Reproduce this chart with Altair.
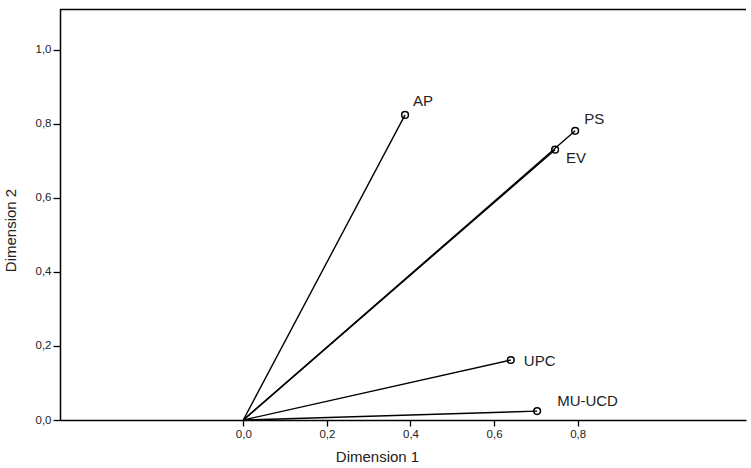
import altair as alt
import pandas as pd

names = ["AP", "PS", "EV", "UPC", "MU-UCD"]
dim1 = [0.387, 0.794, 0.746, 0.640, 0.703]
dim2 = [0.824, 0.781, 0.730, 0.162, 0.024]
label_dx = [8, 9, 11, 13, 20]
label_dy = [-14, -12, 8, 1, -10]

x_ticks = [0.0, 0.2, 0.4, 0.6, 0.8]
y_ticks = [0.0, 0.2, 0.4, 0.6, 0.8, 1.0]
x_domain = [-0.4385, 1.2027]
y_domain = [0.0, 1.11]

pts = pd.DataFrame({"name": names, "d1": dim1, "d2": dim2})
seg_rows = []
for n, a, b in zip(names, dim1, dim2):
    seg_rows.append({"name": n, "d1": 0.0, "d2": 0.0, "o": 0})
    seg_rows.append({"name": n, "d1": a, "d2": b, "o": 1})
segs = pd.DataFrame(seg_rows)

fmt = "replace(format(datum.value, '.1f'), '.', ',')"
FONT = "Liberation Sans"

xs = alt.Scale(domain=x_domain, nice=False, zero=False)
ys = alt.Scale(domain=y_domain, nice=False, zero=False)

xaxis = alt.Axis(values=x_ticks, labelExpr=fmt, title="Dimension 1", grid=False,
                 domainColor="black", domainWidth=1.5, tickColor="black", tickWidth=1.3,
                 tickSize=6, labelFontSize=11.5, labelColor="#222", labelPadding=2,
                 titleFontSize=15, titleFontWeight="normal", titleColor="#222",
                 titleX=317, titleY=29, titleFont=FONT, labelFont=FONT)
yaxis = alt.Axis(values=y_ticks, labelExpr=fmt, title="Dimension 2", grid=False,
                 domainColor="black", domainWidth=1.5, tickColor="black", tickWidth=1.3,
                 tickSize=7, labelFontSize=11.5, labelColor="#222", labelPadding=2,
                 titleFontSize=15, titleFontWeight="normal", titleColor="#222",
                 titleX=-42, titleY=221, titleFont=FONT, labelFont=FONT)

lines = alt.Chart(segs).mark_line(color="black", strokeWidth=1.4).encode(
    x=alt.X("d1:Q", scale=xs, axis=xaxis),
    y=alt.Y("d2:Q", scale=ys, axis=yaxis),
    detail="name:N",
    order="o:Q",
)

circles = alt.Chart(pts).mark_point(shape="circle", size=45, color="black",
                                    strokeWidth=1.5, filled=False, opacity=1).encode(
    x=alt.X("d1:Q", scale=xs),
    y=alt.Y("d2:Q", scale=ys),
)

layers = [lines, circles]
for n, a, b, dx, dy in zip(names, dim1, dim2, label_dx, label_dy):
    t = alt.Chart(pd.DataFrame({"name": [n], "d1": [a], "d2": [b]})).mark_text(
        align="left", baseline="middle", dx=dx, dy=dy, fontSize=15, font=FONT, color="#222"
    ).encode(x=alt.X("d1:Q", scale=xs), y=alt.Y("d2:Q", scale=ys), text="name:N")
    layers.append(t)

top = alt.Chart(pd.DataFrame({"v": [1]})).mark_rule(color="black", strokeWidth=1.5).encode(
    x=alt.value(0), x2=alt.value(686), y=alt.value(0.5), y2=alt.value(0.5)
)
layers.append(top)

chart = alt.layer(*layers).properties(
    width=686, height=411,
    autosize=alt.AutoSizeParams(type="none"),
    padding={"left": 60, "top": 9, "right": 5, "bottom": 48},
    background="white",
).configure_view(stroke="transparent", strokeWidth=0)

chart.save("out.html", embed_options={"renderer": "svg", "actions": False})
